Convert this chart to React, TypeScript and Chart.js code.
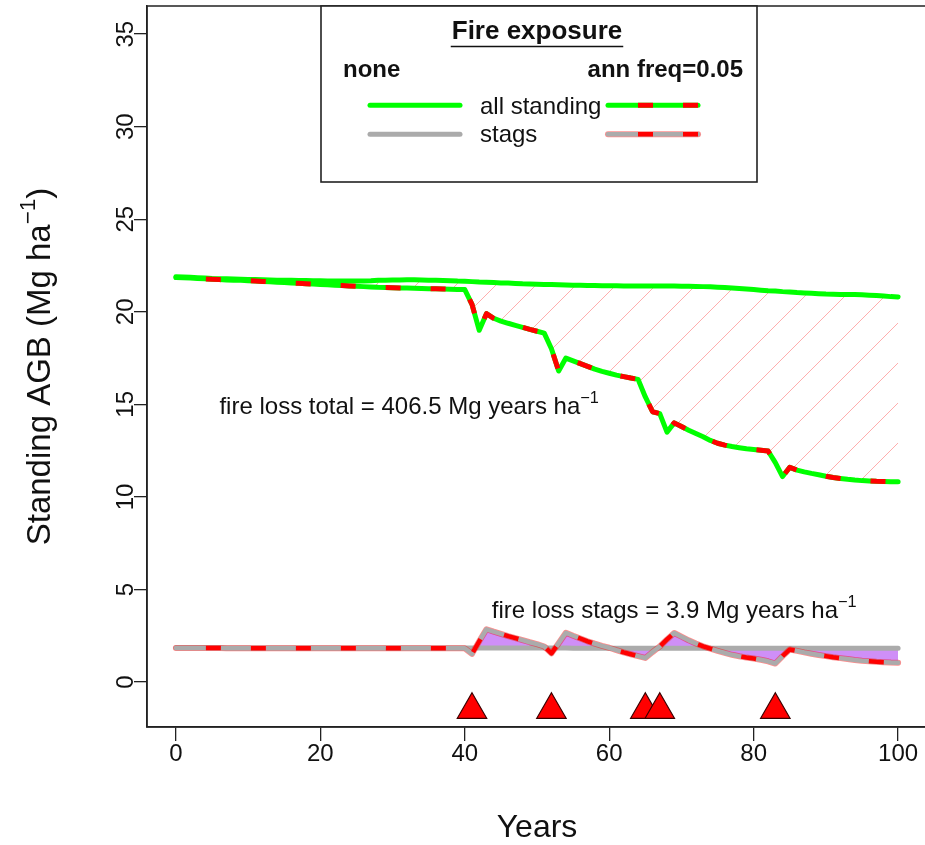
import React, { useEffect, useRef } from 'react';
import { Chart, registerables } from 'chart.js';

Chart.register(...registerables);

const FONT = '"Liberation Sans", Arial, Helvetica, sans-serif';

// ---- data ----
const YEARS: number[] = Array.from({ length: 101 }, (_, i) => i);

const NONE_ALL: number[] = [
  21.90, 21.88, 21.86, 21.84, 21.82, 21.80, 21.79, 21.78, 21.77, 21.76,
  21.75, 21.74, 21.73, 21.72, 21.71, 21.70, 21.70, 21.69, 21.69, 21.68,
  21.68, 21.67, 21.67, 21.66, 21.66, 21.66, 21.67, 21.68, 21.70, 21.71,
  21.72, 21.72, 21.73, 21.73, 21.72, 21.71, 21.70, 21.69, 21.68, 21.66,
  21.65, 21.63, 21.61, 21.60, 21.58, 21.56, 21.55, 21.53, 21.51, 21.50,
  21.49, 21.48, 21.47, 21.46, 21.45, 21.44, 21.43, 21.42, 21.42, 21.41,
  21.41, 21.41, 21.40, 21.40, 21.40, 21.40, 21.40, 21.39, 21.39, 21.39,
  21.38, 21.38, 21.37, 21.36, 21.35, 21.33, 21.31, 21.29, 21.26, 21.23,
  21.20, 21.17, 21.14, 21.12, 21.09, 21.07, 21.04, 21.02, 21.00, 20.98,
  20.96, 20.95, 20.94, 20.94, 20.93, 20.92, 20.90, 20.88, 20.85, 20.82,
  20.80,
];

const FIRE_ALL: number[] = [
  21.85, 21.84, 21.82, 21.80, 21.78, 21.76, 21.74, 21.72, 21.71, 21.70,
  21.68, 21.66, 21.64, 21.62, 21.60, 21.58, 21.56, 21.54, 21.52, 21.50,
  21.48, 21.46, 21.44, 21.42, 21.40, 21.38, 21.36, 21.34, 21.32, 21.31,
  21.30, 21.29, 21.28, 21.27, 21.26, 21.25, 21.24, 21.23, 21.22, 21.21,
  21.20, 20.40, 19.00, 19.90, 19.65, 19.50, 19.38, 19.27, 19.16, 19.05,
  18.95, 18.85, 18.00, 16.80, 17.50, 17.35, 17.20, 17.05, 16.90, 16.78,
  16.68, 16.58, 16.50, 16.42, 16.35, 15.40, 14.60, 14.50, 13.50, 14.00,
  13.80, 13.60, 13.42, 13.25, 13.05, 12.90, 12.80, 12.72, 12.66, 12.60,
  12.56, 12.52, 12.48, 11.85, 11.10, 11.60, 11.45, 11.35, 11.27, 11.20,
  11.12, 11.05, 11.00, 10.95, 10.91, 10.88, 10.86, 10.84, 10.83, 10.82,
  10.82,
];

const NONE_STAGS: number[] = [
  1.85, 1.85, 1.85, 1.85, 1.85, 1.85, 1.85, 1.84, 1.84, 1.84,
  1.84, 1.84, 1.84, 1.84, 1.84, 1.84, 1.84, 1.84, 1.84, 1.84,
  1.84, 1.84, 1.84, 1.84, 1.84, 1.84, 1.84, 1.84, 1.84, 1.84,
  1.84, 1.84, 1.84, 1.84, 1.84, 1.84, 1.84, 1.84, 1.84, 1.84,
  1.84, 1.84, 1.84, 1.84, 1.84, 1.84, 1.84, 1.84, 1.84, 1.84,
  1.84, 1.84, 1.84, 1.84, 1.84, 1.83, 1.83, 1.83, 1.83, 1.83,
  1.83, 1.83, 1.83, 1.83, 1.83, 1.83, 1.83, 1.83, 1.83, 1.83,
  1.83, 1.83, 1.83, 1.83, 1.83, 1.83, 1.83, 1.83, 1.83, 1.83,
  1.83, 1.83, 1.83, 1.83, 1.83, 1.83, 1.83, 1.82, 1.82, 1.82,
  1.82, 1.82, 1.82, 1.82, 1.82, 1.82, 1.82, 1.82, 1.82, 1.82,
  1.82,
];

const FIRE_STAGS: number[] = [
  1.84, 1.84, 1.84, 1.84, 1.84, 1.84, 1.84, 1.83, 1.83, 1.83,
  1.83, 1.83, 1.83, 1.83, 1.83, 1.83, 1.83, 1.83, 1.83, 1.83,
  1.83, 1.83, 1.83, 1.83, 1.83, 1.83, 1.83, 1.83, 1.83, 1.83,
  1.82, 1.82, 1.82, 1.82, 1.82, 1.82, 1.82, 1.82, 1.82, 1.82,
  1.82, 1.52, 2.20, 2.85, 2.72, 2.60, 2.48, 2.37, 2.26, 2.15,
  2.05, 1.92, 1.55, 2.10, 2.66, 2.50, 2.35, 2.20, 2.07, 1.95,
  1.85, 1.72, 1.60, 1.50, 1.40, 1.30, 1.62, 1.92, 2.30, 2.65,
  2.45, 2.25, 2.08, 1.93, 1.80, 1.68, 1.57, 1.47, 1.39, 1.32,
  1.27, 1.20, 1.12, 1.00, 1.40, 1.76, 1.68, 1.60, 1.53, 1.46,
  1.40, 1.34, 1.29, 1.24, 1.19, 1.15, 1.12, 1.09, 1.07, 1.05,
  1.04,
];

const FIRE_YEARS: number[] = [41, 52, 65, 67, 83];
const FIRE_MARK_LEVEL = -1.5;

const X_TICKS: number[] = [0, 20, 40, 60, 80, 100];
const Y_TICKS: number[] = [0, 5, 10, 15, 20, 25, 30, 35];
const X_RANGE: number[] = [-4, 104];
const Y_RANGE: number[] = [-2.43, 36.52];

const X_TITLE = 'Years';
const Y_TITLE = ['Standing AGB (Mg ha', '\u22121', ')'];
const NOTE_TOTAL = ['fire loss total = 406.5 Mg years ha', '\u22121'];
const NOTE_TOTAL_AT = [32.3, 15];
const NOTE_STAGS = ['fire loss stags = 3.9 Mg years ha', '\u22121'];
const NOTE_STAGS_AT = [69, 4];

const GREEN = '#00ff00';
const RED = '#ff0000';
const GRAY = '#ababab';
const HALO = 'rgba(255,0,0,0.45)';
const PURPLE_FILL = 'rgba(160,32,240,0.5)';
const HATCH = 'rgba(255,0,0,0.32)';
const INK = '#111111';

const pts = (vals: number[]) => YEARS.map((x, i) => ({ x, y: vals[i] }));

type Seg = { t: string; sup?: boolean };

function drawRich(ctx: CanvasRenderingContext2D, segs: Seg[], cx: number, baseline: number, size: number) {
  const supSize = size * 0.68;
  let total = 0;
  const widths = segs.map((s) => {
    ctx.font = `${s.sup ? supSize : size}px ${FONT}`;
    const w = ctx.measureText(s.t).width;
    total += w;
    return w;
  });
  let x = cx - total / 2;
  ctx.textAlign = 'left';
  ctx.textBaseline = 'alphabetic';
  segs.forEach((s, i) => {
    ctx.font = `${s.sup ? supSize : size}px ${FONT}`;
    ctx.fillText(s.t, x, s.sup ? baseline - size * 0.46 : baseline);
    x += widths[i];
  });
}

const overlay = {
  id: 'overlay',
  afterDraw(chart: any) {
    const { ctx, chartArea: ca, scales } = chart;
    const xs = scales.x;
    const ys = scales.y;
    ctx.save();
    // plot box
    ctx.strokeStyle = '#222';
    ctx.lineWidth = 1.5;
    ctx.strokeRect(ca.left, ca.top, ca.right - ca.left, ca.bottom - ca.top);

    ctx.fillStyle = INK;
    // x tick labels
    ctx.font = `24px ${FONT}`;
    ctx.textAlign = 'center';
    ctx.textBaseline = 'alphabetic';
    X_TICKS.forEach((v) => {
      ctx.fillText(String(v), xs.getPixelForValue(v), 761);
    });
    // y tick labels (rotated)
    Y_TICKS.forEach((v) => {
      ctx.save();
      ctx.translate(133, ys.getPixelForValue(v));
      ctx.rotate(-Math.PI / 2);
      ctx.textAlign = 'center';
      ctx.fillText(String(v), 0, 0);
      ctx.restore();
    });
    // axis titles
    ctx.font = `32px ${FONT}`;
    ctx.textAlign = 'center';
    ctx.fillText(X_TITLE, (ca.left + ca.right) / 2, 837);
    ctx.save();
    ctx.translate(50, (ca.top + ca.bottom) / 2);
    ctx.rotate(-Math.PI / 2);
    drawRich(ctx, [{ t: Y_TITLE[0] }, { t: Y_TITLE[1], sup: true }, { t: Y_TITLE[2] }], 0, 0, 33);
    ctx.restore();

    // annotations
    drawRich(ctx, [{ t: NOTE_TOTAL[0] }, { t: NOTE_TOTAL[1], sup: true }],
      xs.getPixelForValue(NOTE_TOTAL_AT[0]), ys.getPixelForValue(NOTE_TOTAL_AT[1]) + 9.8, 24);
    drawRich(ctx, [{ t: NOTE_STAGS[0] }, { t: NOTE_STAGS[1], sup: true }],
      xs.getPixelForValue(NOTE_STAGS_AT[0]), ys.getPixelForValue(NOTE_STAGS_AT[1]) + 9.8, 24);

    // legend
    const L = 321, T = 6, W = 436, H = 176;
    ctx.fillStyle = '#ffffff';
    ctx.fillRect(L, T, W, H);
    ctx.strokeStyle = '#222';
    ctx.lineWidth = 1.6;
    ctx.strokeRect(L, T, W, H);
    ctx.fillStyle = INK;
    ctx.font = `bold 26px ${FONT}`;
    ctx.textAlign = 'center';
    ctx.fillText('Fire exposure', 537, 39);
    const tw = ctx.measureText('Fire exposure').width;
    ctx.strokeStyle = INK;
    ctx.lineWidth = 1.5;
    ctx.beginPath();
    ctx.moveTo(537 - tw / 2 - 1, 46.5);
    ctx.lineTo(537 + tw / 2 + 1, 46.5);
    ctx.stroke();
    ctx.font = `bold 24px ${FONT}`;
    ctx.textAlign = 'left';
    ctx.fillText('none', 343, 77);
    ctx.textAlign = 'right';
    ctx.fillText('ann freq=0.05', 743, 77);
    ctx.font = `24px ${FONT}`;
    ctx.textAlign = 'left';
    ctx.fillText('all standing', 480, 113.5);
    ctx.fillText('stags', 480, 142);

    const seg = (x1: number, x2: number, y: number, color: string, w: number, dash?: number[]) => {
      ctx.save();
      ctx.strokeStyle = color;
      ctx.lineWidth = w;
      ctx.lineCap = dash ? 'butt' : 'round';
      if (dash) {
        ctx.setLineDash(dash);
        ctx.lineDashOffset = 15;
      }
      ctx.beginPath();
      ctx.moveTo(x1, y);
      ctx.lineTo(x2, y);
      ctx.stroke();
      ctx.restore();
    };
    seg(370, 460, 105.3, GREEN, 5);
    seg(370, 460, 134.3, GRAY, 5);
    seg(608, 698, 105.3, GREEN, 5);
    seg(608, 698, 105.3, RED, 5, [15, 30]);
    seg(608, 698, 134.3, HALO, 6);
    seg(608, 698, 134.3, GRAY, 4.5);
    seg(608, 698, 134.3, RED, 4.5, [15, 30]);
    ctx.restore();
  },
};

export default function App() {
  const ref = useRef<HTMLCanvasElement | null>(null);

  useEffect(() => {
    const canvas = ref.current;
    if (!canvas) return;
    const c2d = canvas.getContext('2d') as CanvasRenderingContext2D;
    const tile = document.createElement('canvas');
    tile.width = 40;
    tile.height = 40;
    const tg = tile.getContext('2d') as CanvasRenderingContext2D;
    tg.strokeStyle = HATCH;
    tg.lineWidth = 1;
    [21, 61].forEach((k) => {
      tg.beginPath();
      tg.moveTo(-5, k + 5);
      tg.lineTo(45, k - 45);
      tg.stroke();
    });
    const hatch = c2d.createPattern(tile, 'repeat') as CanvasPattern;

    const lineBase = {
      pointRadius: 0,
      pointHoverRadius: 0,
      tension: 0,
      fill: false,
      borderJoinStyle: 'round' as const,
      borderCapStyle: 'round' as const,
    };

    const chart = new Chart(canvas, {
      type: 'line',
      data: {
        datasets: [
          { ...lineBase, label: 'stags none', data: pts(NONE_STAGS), borderColor: GRAY, borderWidth: 5, order: 7 },
          { ...lineBase, label: 'all none', data: pts(NONE_ALL), borderColor: GREEN, borderWidth: 5, order: 6 },
          { ...lineBase, label: 'stags fire halo', data: pts(FIRE_STAGS), borderColor: HALO, borderWidth: 6, order: 5 },
          {
            ...lineBase, label: 'stags fire', data: pts(FIRE_STAGS), borderColor: GRAY, borderWidth: 4.5, order: 4,
            fill: { target: 0, above: PURPLE_FILL, below: PURPLE_FILL },
          },
          {
            ...lineBase, label: 'all fire', data: pts(FIRE_ALL), borderColor: GREEN, borderWidth: 5, order: 3,
            fill: { target: 1, above: hatch, below: hatch },
          },
          {
            ...lineBase, label: 'stags fire dash', data: pts(FIRE_STAGS), borderColor: RED, borderWidth: 4.5,
            borderDash: [15, 30], borderDashOffset: 15, borderCapStyle: 'butt' as const, order: 2,
          },
          {
            ...lineBase, label: 'all fire dash', data: pts(FIRE_ALL), borderColor: RED, borderWidth: 5,
            borderDash: [15, 30], borderDashOffset: 15, borderCapStyle: 'butt' as const, order: 1,
          },
          {
            label: 'fires', data: FIRE_YEARS.map((x) => ({ x, y: FIRE_MARK_LEVEL })),
            showLine: false, pointStyle: 'triangle', pointRadius: 17, pointHoverRadius: 17,
            pointBackgroundColor: RED, pointBorderColor: '#3a0000', pointBorderWidth: 1.2, order: 0,
          },
        ],
      },
      options: {
        responsive: false,
        animation: false,
        devicePixelRatio: 1,
        events: [],
        layout: { autoPadding: false, padding: { left: 0, top: 6, right: 3, bottom: 0 } },
        plugins: {
          legend: { display: false },
          tooltip: { enabled: false },
          filler: { drawTime: 'beforeDatasetsDraw', propagate: false },
        },
        scales: {
          x: {
            type: 'linear',
            min: X_RANGE[0],
            max: X_RANGE[1],
            afterBuildTicks: (s: any) => { s.ticks = X_TICKS.map((v) => ({ value: v })); },
            afterFit: (s: any) => { s.height = 118; },
            ticks: { display: false },
            grid: { drawOnChartArea: false, drawTicks: true, tickLength: 14, color: '#222', lineWidth: 1.3 },
            border: { display: true, color: '#222', width: 1.5 },
          },
          y: {
            type: 'linear',
            min: Y_RANGE[0],
            max: Y_RANGE[1],
            afterBuildTicks: (s: any) => { s.ticks = Y_TICKS.map((v) => ({ value: v })); },
            afterFit: (s: any) => { s.width = 147; },
            ticks: { display: false },
            grid: { drawOnChartArea: false, drawTicks: true, tickLength: 13, color: '#222', lineWidth: 1.3 },
            border: { display: true, color: '#222', width: 1.5 },
          },
        },
      } as any,
      plugins: [overlay],
    });
    return () => chart.destroy();
  }, []);

  return (
    <div style={{ position: 'absolute', left: 0, top: 0, width: 925, height: 845, overflow: 'hidden', background: '#fff' }}>
      <canvas ref={ref} width={930} height={845} style={{ width: 930, height: 845, display: 'block' }} />
    </div>
  );
}
